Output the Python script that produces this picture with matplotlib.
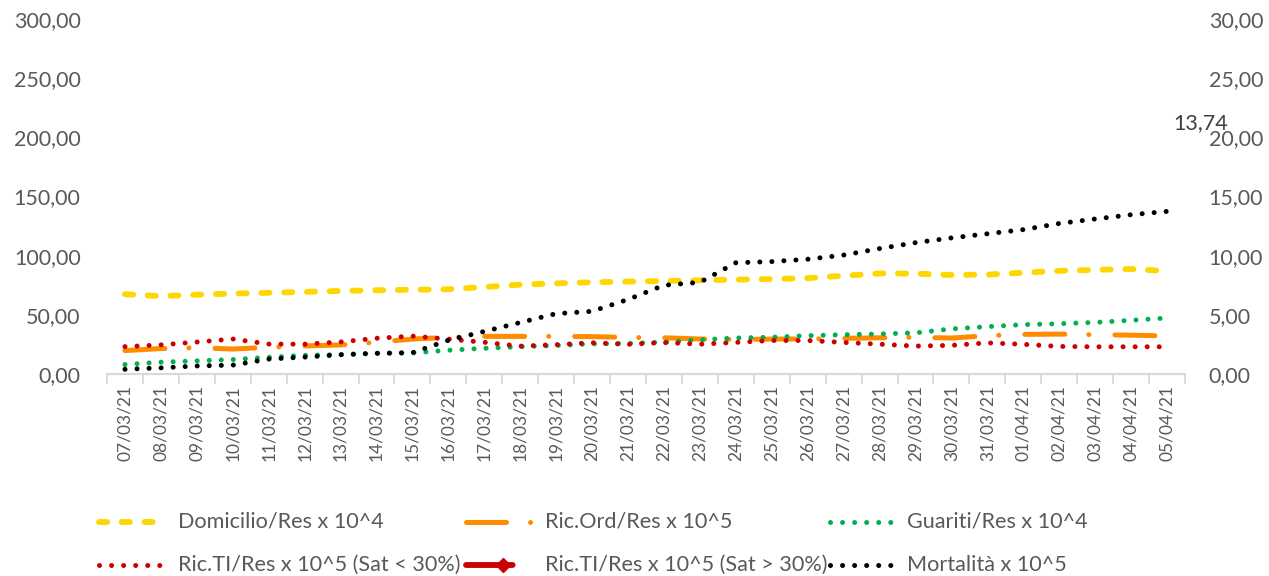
import matplotlib
matplotlib.use("Agg")
import matplotlib.pyplot as plt
from matplotlib.lines import Line2D

plt.rcParams['font.family'] = ['Lato', 'DejaVu Sans']

# dates on the x axis
dates = ['07/03/21', '08/03/21', '09/03/21', '10/03/21', '11/03/21', '12/03/21',
         '13/03/21', '14/03/21', '15/03/21', '16/03/21', '17/03/21', '18/03/21',
         '19/03/21', '20/03/21', '21/03/21', '22/03/21', '23/03/21', '24/03/21',
         '25/03/21', '26/03/21', '27/03/21', '28/03/21', '29/03/21', '30/03/21',
         '31/03/21', '01/04/21', '02/04/21', '03/04/21', '04/04/21', '05/04/21']

# left axis series
domicilio = [67.4, 65.8, 67.0, 68.0, 68.6, 69.4, 70.2, 70.8, 71.2, 71.6,
             73.5, 75.5, 76.6, 77.5, 78.1, 78.6, 79.2, 79.8, 80.2, 81.0,
             83.0, 85.0, 84.8, 83.7, 84.0, 85.6, 87.2, 88.0, 88.7, 87.0]
ric_ord = [19.8, 21.5, 22.2, 21.1, 22.6, 23.7, 24.6, 26.9, 29.5, 31.0,
           31.8, 31.8, 31.8, 31.6, 30.9, 30.6, 29.6, 29.2, 29.5, 29.6,
           30.1, 30.6, 31.0, 30.4, 32.3, 33.5, 33.7, 33.2, 32.8, 32.2]
guariti = [8.0, 10.0, 11.1, 12.2, 14.1, 15.8, 16.4, 17.5, 17.8, 20.1,
           21.7, 23.1, 24.1, 25.5, 25.8, 26.9, 28.9, 30.4, 31.1, 32.4,
           33.2, 33.8, 34.8, 38.1, 40.0, 41.7, 42.5, 43.6, 45.4, 47.3]

# right axis series
ric_ti = [2.31, 2.46, 2.70, 2.96, 2.53, 2.52, 2.71, 3.02, 3.20, 2.95,
          2.68, 2.35, 2.48, 2.64, 2.51, 2.66, 2.52, 2.67, 2.83, 2.83,
          2.67, 2.52, 2.36, 2.42, 2.63, 2.51, 2.33, 2.30, 2.30, 2.30]
mortalita = [0.40, 0.52, 0.68, 0.75, 1.26, 1.43, 1.63, 1.75, 1.80, 2.85,
             3.60, 4.35, 5.10, 5.30, 6.30, 7.50, 7.75, 9.40, 9.50, 9.70,
             10.05, 10.60, 11.10, 11.50, 11.85, 12.20, 12.72, 13.10, 13.46, 13.74]

labels = ['Domicilio/Res x 10^4', 'Ric.Ord/Res x 10^5', 'Guariti/Res x 10^4',
          'Ric.TI/Res x 10^5 (Sat < 30%)', 'Ric.TI/Res x 10^5 (Sat > 30%)', 'Mortalità x 10^5']

YELLOW = '#FFD700'
ORANGE = '#FF8C00'
GREEN = '#00B050'
RED = '#CC0000'
BLACK = '#000000'
GREY = '#595959'
AXIS = '#D9D9D9'

W, H = 1269, 576
fig = plt.figure(figsize=(W / 100, H / 100), dpi=100)
ax = fig.add_axes([107 / W, (H - 374) / H, (1185 - 107) / W, (374 - 19) / H])
ax2 = ax.twinx()

x = list(range(len(dates)))
lw = 3.6
dash_style = (0, (1.4, 2.5))
longdash_dot = (0, (8.0, 4.8, 0.01, 5.2))
dot_style = (0, (0.01, 2.4))

ax.plot(x, domicilio, color=YELLOW, lw=4.2, linestyle=dash_style, dash_capstyle='round')
ax.plot(x, ric_ord, color=ORANGE, lw=lw, linestyle=longdash_dot, dash_capstyle='round')
ax.plot(x, guariti, color=GREEN, lw=lw, linestyle=dot_style, dash_capstyle='round')
ax2.plot(x, ric_ti, color=RED, lw=lw, linestyle=dot_style, dash_capstyle='round')
ax2.plot(x, mortalita, color=BLACK, lw=lw, linestyle=dot_style, dash_capstyle='round')

ax2.text(len(dates) - 0.05, 21.2, f'{mortalita[-1]:.2f}'.replace('.', ','), fontsize=15.5,
         color='#404040', ha='center', va='center', clip_on=False)

ax.set_xlim(-0.5, len(dates) - 0.5)
ax.set_ylim(0, 300)
ax2.set_ylim(0, 30)
ax.set_yticks(range(0, 301, 50))
ax.set_yticklabels([f'{v:.2f}'.replace('.', ',') for v in range(0, 301, 50)])
ax2.set_yticks(range(0, 31, 5))
ax2.set_yticklabels([f'{v:.2f}'.replace('.', ',') for v in range(0, 31, 5)])

ax.set_xticks(x)
ax.set_xticklabels(dates, rotation=90)
ax.set_xticks([i - 0.5 for i in range(len(dates) + 1)], minor=True)
ax.tick_params(axis='x', which='major', length=0, pad=8, labelsize=12.5, labelcolor=GREY)
ax.tick_params(axis='x', which='minor', length=7, width=1.3, color=AXIS)
ax.tick_params(axis='y', length=0, pad=19, labelsize=15.5, labelcolor=GREY)
ax2.tick_params(axis='y', length=0, pad=17, labelsize=15.5, labelcolor=GREY)

for a in (ax, ax2):
    for s in ('left', 'right', 'top'):
        a.spines[s].set_visible(False)
    a.spines['bottom'].set_color(AXIS)
    a.spines['bottom'].set_linewidth(1.5)

# legend drawn by hand, two rows of three
def fx(px):
    return px / W

def fy(py):
    return 1 - py / H

rows = [522, 565]
handle_x = [(99, 163), (466, 540), (830, 894)]
text_x = [178, 545, 907]
styles = [
    dict(color=YELLOW, lw=4.2, linestyle=dash_style, dash_capstyle='round'),
    dict(color=ORANGE, lw=lw, linestyle=longdash_dot, dash_capstyle='round'),
    dict(color=GREEN, lw=lw, linestyle=dot_style, dash_capstyle='round'),
    dict(color=RED, lw=lw, linestyle=dot_style, dash_capstyle='round'),
    dict(color=RED, lw=lw + 0.6, linestyle=longdash_dot, dash_capstyle='round'),
    dict(color=BLACK, lw=lw, linestyle=dot_style, dash_capstyle='round'),
]
for k, lab in enumerate(labels):
    r, c = divmod(k, 3)
    x0, x1 = handle_x[c]
    yy = rows[r]
    fig.add_artist(Line2D([fx(x0), fx(x1)], [fy(yy), fy(yy)], transform=fig.transFigure, **styles[k]))
    if k == 4:
        fig.add_artist(Line2D([fx(503)], [fy(yy)], transform=fig.transFigure, marker='D',
                              markersize=7, color=RED, linestyle='none'))
    fig.text(fx(text_x[c]), fy(yy), lab, fontsize=15.6, color=GREY, ha='left', va='center')

fig.savefig('out.png', dpi=100)
